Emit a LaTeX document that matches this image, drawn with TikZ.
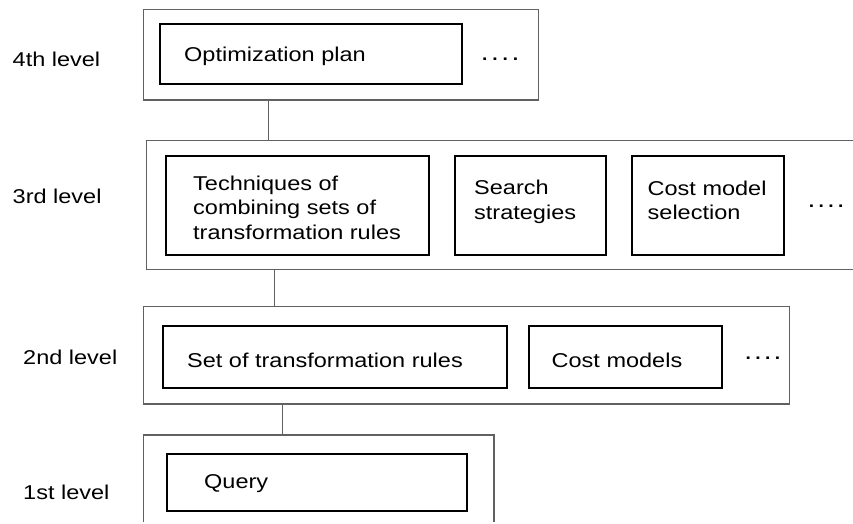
\documentclass[tikz,border=0pt]{standalone}
\usepackage{fontspec}
\setmainfont{Liberation Sans}[FakeStretch=1.175]
\begin{document}
\begin{tikzpicture}[x=1pt,y=-1pt,
  levelbox/.style={draw=black!62, line width=1.1pt, inner sep=0pt, fill=none},
  itembox/.style={draw=black, line width=2.3pt, inner sep=0pt},
  wire/.style={draw=black!62, line width=1pt},
  lbl/.style={inner sep=0pt, anchor=west, text height=14.3pt, text depth=0pt,
              font=\fontsize{20}{24.5}\selectfont},
  mlbl/.style={inner sep=0pt, anchor=north west, align=left,
               font=\fontsize{20}{24.5}\selectfont},
  dotrow/.style={inner sep=0pt, anchor=base west, font=\fontsize{24}{24}\selectfont}]
\useasboundingbox (0,0) rectangle (853,523);
\begin{scope}
\clip (0,0) rectangle (853,521);

% level frames
\node[levelbox, minimum width=394.8pt, minimum height=90.7pt] (lvl4) at (340.9,54.65) {};
\node[levelbox, minimum width=723.3pt, minimum height=128.6pt] (lvl3) at (508.35,205) {};
\node[levelbox, minimum width=646pt,   minimum height=97.3pt]  (lvl2) at (466.3,355.35) {};
\node[levelbox, minimum width=350.7pt, minimum height=110pt]   (lvl1) at (318.65,490) {};

% level names
\node[lbl] (n4) at (12.5,59.7) {4th level};
\node[lbl] (n3) at (12.5,196.7) {3rd level};
\node[lbl] (n2) at (23,357) {2nd level};
\node[lbl] (n1) at (23,492) {1st level};

% 4th level
\node[itembox, minimum width=302.3pt, minimum height=59.7pt] (opt) at (311.15,54.15) {};
\node[lbl] (optt) at (184,54.5) {Optimization plan};
\node[dotrow] (d4) at (480.7,60) {.\kern2.4pt.\kern2.4pt.\kern2.4pt.};

% 3rd level
\node[itembox, minimum width=263pt, minimum height=99pt] (tech) at (297.5,205.5) {};
\node[mlbl] (techt) at (193,175.7) {Techniques of\\combining sets of\\transformation rules};
\node[itembox, minimum width=151pt, minimum height=99pt] (search) at (530.5,205.5) {};
\node[mlbl] (searcht) at (474,180) {Search\\strategies};
\node[itembox, minimum width=152.6pt, minimum height=99pt] (cms) at (708,205.5) {};
\node[mlbl] (cmst) at (647.5,180.5) {Cost model\\selection};
\node[dotrow] (d3) at (807.4,207.4) {.\kern1.9pt.\kern1.9pt.\kern1.9pt.};

% 2nd level
\node[itembox, minimum width=344pt, minimum height=62.3pt] (rules) at (335.3,356.85) {};
\node[lbl] (rulest) at (187,360) {Set of transformation rules};
\node[itembox, minimum width=193pt, minimum height=62.3pt] (cm) at (625.8,356.85) {};
\node[lbl] (cmt) at (551.5,360) {Cost models};
\node[dotrow] (d2) at (744.1,359.6) {.\kern1.9pt.\kern1.9pt.\kern1.9pt.};

% 1st level
\node[itembox, minimum width=300pt, minimum height=56.7pt] (query) at (317,482.35) {};
\node[lbl] (queryt) at (204,481.2) {Query};

% links between levels
\coordinate (x43) at (268.5,0);
\coordinate (x32) at (274.3,0);
\coordinate (x21) at (282.8,0);
\draw[wire] (lvl4.south -| x43) -- (lvl3.north -| x43);
\draw[wire] (lvl3.south -| x32) -- (lvl2.north -| x32);
\draw[wire] (lvl2.south -| x21) -- (lvl1.north -| x21);
\end{scope}
\end{tikzpicture}
\end{document}
